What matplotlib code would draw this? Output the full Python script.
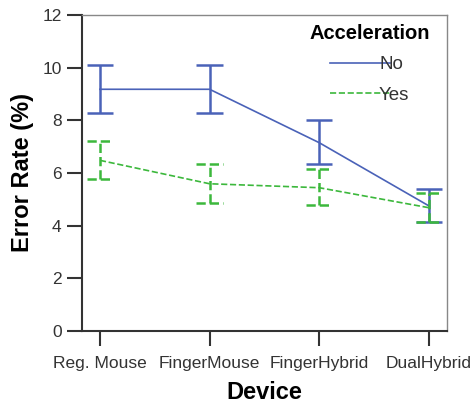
"""Error rate by device, with and without acceleration."""
import matplotlib.pyplot as plt
from matplotlib.lines import Line2D

plt.rcParams['font.family'] = ['Liberation Sans', 'DejaVu Sans']

devices = ["Reg. Mouse", "FingerMouse", "FingerHybrid", "DualHybrid"]
no_mean = [9.18, 9.18, 7.15, 4.75]
no_low = [8.28, 8.28, 6.33, 4.12]
no_high = [10.10, 10.10, 8.03, 5.38]
yes_mean = [6.48, 5.59, 5.44, 4.68]
yes_low = [5.76, 4.86, 4.77, 4.13]
yes_high = [7.23, 6.33, 6.15, 5.23]

blue = "#4a62b8"
green = "#3cb83c"

fig = plt.figure(figsize=(4.76, 4.07), dpi=100)
ax = fig.add_axes([0.172, 0.187, 0.767, 0.776])
x = list(range(len(devices)))
cap = 0.12


def draw_series(mean, low, high, color, style):
    ax.plot(x, mean, color=color, linestyle=style, linewidth=1.2)
    ax.vlines(x, low, high, color=color, linestyle=style, linewidth=1.8)
    xs0 = [v - cap for v in x]
    xs1 = [v + cap for v in x]
    ax.hlines(low, xs0, xs1, color=color, linestyle=style, linewidth=1.8)
    ax.hlines(high, xs0, xs1, color=color, linestyle=style, linewidth=1.8)


draw_series(no_mean, no_low, no_high, blue, "-")
draw_series(yes_mean, yes_low, yes_high, green, "--")

ax.set_xlim(-0.165, 3.165)
ax.set_ylim(0, 12)
ax.set_yticks(range(0, 13, 2))
ax.set_xticks(x)
ax.set_xticklabels(devices)
ax.tick_params(axis="both", length=11, width=1.5, color="#333333", labelsize=12.5,
               labelcolor="#333333")
ax.tick_params(axis="x", pad=7)
for side in ("left", "bottom"):
    ax.spines[side].set_color("#333333")
    ax.spines[side].set_linewidth(1.5)
for side in ("top", "right"):
    ax.spines[side].set_color("#888888")
    ax.spines[side].set_linewidth(1.0)

ax.set_xlabel("Device", fontsize=17, fontweight="bold", labelpad=7)
ax.set_ylabel("Error Rate (%)", fontsize=17, fontweight="bold", labelpad=6)

handles = [Line2D([], [], color=blue, linestyle="-", linewidth=1.2),
           Line2D([], [], color=green, linestyle="--", linewidth=1.2)]
leg = ax.legend(handles, ["No", "Yes"], title="Acceleration", frameon=False,
                loc="upper right", bbox_to_anchor=(1.0, 1.025), fontsize=13.5,
                handlelength=3.2, handletextpad=-0.6, labelspacing=0.7)
leg.get_title().set_fontweight("bold")
leg.get_title().set_fontsize(14.5)
for t in leg.get_texts():
    t.set_color("#333333")

fig.savefig("out.png", dpi=100)
